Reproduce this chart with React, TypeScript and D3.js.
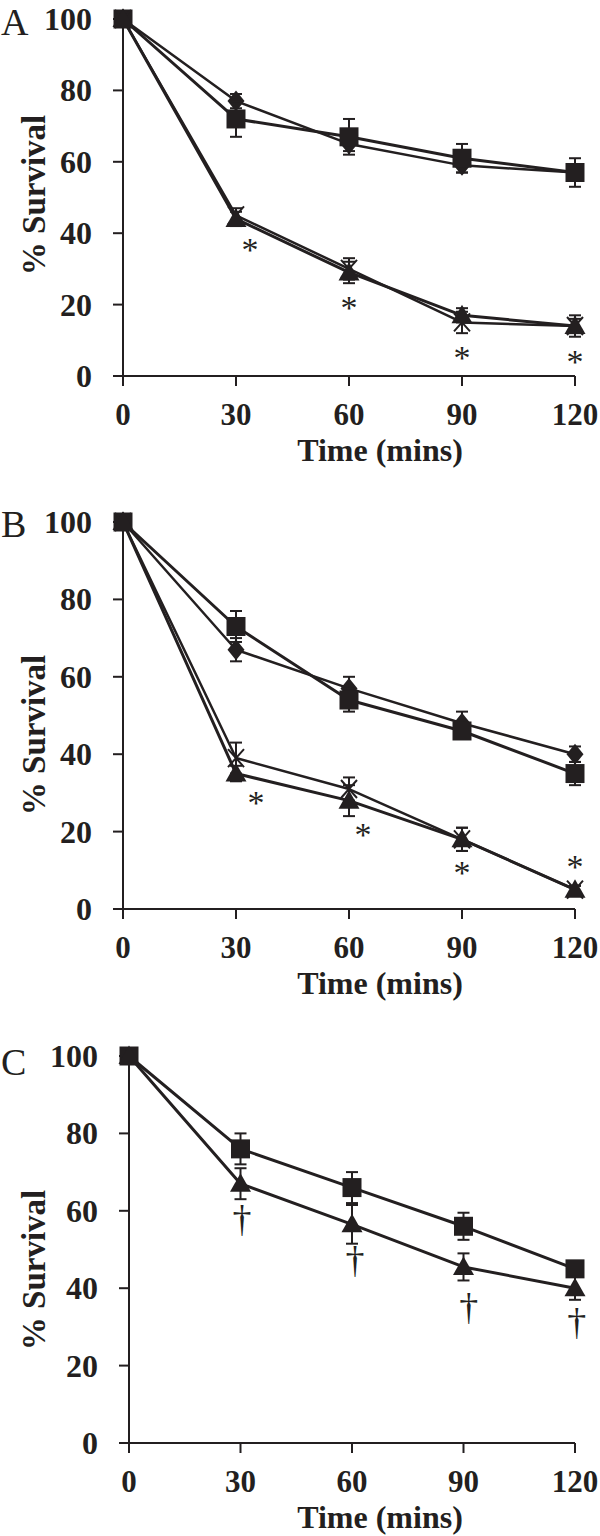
import React from "react";
import * as d3 from "d3";

const TIMES = [0, 30, 60, 90, 120];
const Y_TICKS = [0, 20, 40, 60, 80, 100];

// Panel A
const A_DIAMOND = [100, 77, 65, 59, 57];
const A_DIAMOND_ERR = [0, 2, 2, 2, 2];
const A_SQUARE = [100, 72, 67, 61, 57];
const A_SQUARE_ERR = [0, 5, 5, 4, 4];
const A_CROSS = [100, 45, 30, 15, 14];
const A_CROSS_ERR = [0, 2, 3, 3, 2];
const A_TRIANGLE = [100, 44, 29, 17, 14];
const A_TRIANGLE_ERR = [0, 2, 3, 2, 3];
const A_STARS = [[33.7, 37.3], [60, 21], [90, 7], [120, 5.9]];

// Panel B
const B_DIAMOND = [100, 67, 57, 48, 40];
const B_DIAMOND_ERR = [0, 3, 3, 3, 2];
const B_SQUARE = [100, 73, 54, 46, 35];
const B_SQUARE_ERR = [0, 4, 3, 2, 3];
const B_CROSS = [100, 39, 31, 18, 5];
const B_CROSS_ERR = [0, 4, 3, 3, 1];
const B_TRIANGLE = [100, 35, 28, 18, 5];
const B_TRIANGLE_ERR = [0, 2, 4, 3, 1];
const B_STARS = [[35.3, 29.2], [63.7, 20.9], [90, 11.1], [120, 12.7]];

// Panel C
const C_SQUARE = [100, 76, 66, 56, 45];
const C_SQUARE_ERR = [0, 4, 4, 3.5, 2];
const C_TRIANGLE = [100, 67, 56.5, 45.5, 40];
const C_TRIANGLE_ERR = [0, 4, 5, 3.5, 3];
const C_DAGGERS = [[30.4, 57.1], [60.8, 46.5], [91.4, 34.4], [120.5, 30.5]];

const INK = "#231f20";
const FONT = "'Liberation Serif', 'Times New Roman', serif";

type Series = { shape: string; values: number[]; err: number[]; width: number };

type PanelCfg = {
  letter: string;
  x0: number; x1: number; yTop: number; yBot: number;
  letterBase: number; titleCy: number;
  series: Series[];
  notes: number[][]; noteChar: string;
};

const PANELS: PanelCfg[] = [
  {
    letter: "A", x0: 123, x1: 575, yTop: 19, yBot: 376, letterBase: 35, titleCy: 195,
    series: [
      { shape: "diamond", values: A_DIAMOND, err: A_DIAMOND_ERR, width: 2.5 },
      { shape: "square", values: A_SQUARE, err: A_SQUARE_ERR, width: 3 },
      { shape: "cross", values: A_CROSS, err: A_CROSS_ERR, width: 2.5 },
      { shape: "triangle", values: A_TRIANGLE, err: A_TRIANGLE_ERR, width: 3 },
    ],
    notes: A_STARS, noteChar: "*",
  },
  {
    letter: "B", x0: 123, x1: 575, yTop: 522, yBot: 909, letterBase: 537, titleCy: 735,
    series: [
      { shape: "diamond", values: B_DIAMOND, err: B_DIAMOND_ERR, width: 2.5 },
      { shape: "square", values: B_SQUARE, err: B_SQUARE_ERR, width: 3 },
      { shape: "cross", values: B_CROSS, err: B_CROSS_ERR, width: 2.5 },
      { shape: "triangle", values: B_TRIANGLE, err: B_TRIANGLE_ERR, width: 3 },
    ],
    notes: B_STARS, noteChar: "*",
  },
  {
    letter: "C", x0: 129, x1: 575, yTop: 1056, yBot: 1443, letterBase: 1075, titleCy: 1270,
    series: [
      { shape: "square", values: C_SQUARE, err: C_SQUARE_ERR, width: 3 },
      { shape: "triangle", values: C_TRIANGLE, err: C_TRIANGLE_ERR, width: 3 },
    ],
    notes: C_DAGGERS, noteChar: "†",
  },
];

function markerPath(shape: string): string {
  if (shape === "square") return "M-9.5,-9.5H9.5V9.5H-9.5Z";
  if (shape === "triangle") return "M0,-10.5L10.5,8H-10.5Z";
  if (shape === "diamond") return "M0,-10.5L8.5,0L0,10.5L-8.5,0Z";
  return "M-8,-9L8,9M-8,9L8,-9";
}

function Panel({ cfg }: { cfg: PanelCfg }) {
  const x = d3.scaleLinear().domain([0, 120]).range([cfg.x0, cfg.x1]);
  const y = d3.scaleLinear().domain([0, 100]).range([cfg.yBot, cfg.yTop]);
  const line = d3.line<number>().x((_, i) => x(TIMES[i])).y((v) => y(v));
  const labelX = cfg.x0 - 31;
  const isStar = cfg.noteChar === "*";
  return (
    <g>
      <text x={1} y={cfg.letterBase} fontFamily={FONT} fontSize={38} fill={INK}>{cfg.letter}</text>
      <line x1={cfg.x0} x2={cfg.x0} y1={y(100)} y2={y(0)} stroke={INK} strokeWidth={2} />
      <line x1={cfg.x0 - 10} x2={x(120)} y1={y(0)} y2={y(0)} stroke={INK} strokeWidth={2} />
      {Y_TICKS.map((t) => (
        <g key={"y" + t}>
          <line x1={cfg.x0 - 10} x2={cfg.x0} y1={y(t)} y2={y(t)} stroke={INK} strokeWidth={2} />
          <text x={labelX} y={y(t) + 11} textAnchor="end" fontFamily={FONT} fontWeight="bold" fontSize={32} fill={INK}>{t}</text>
        </g>
      ))}
      {TIMES.map((t) => (
        <g key={"x" + t}>
          <line x1={x(t)} x2={x(t)} y1={y(0)} y2={y(0) + 10} stroke={INK} strokeWidth={2} />
          <text x={x(t)} y={y(0) + 49} textAnchor="middle" fontFamily={FONT} fontWeight="bold" fontSize={31} fill={INK}>{t}</text>
        </g>
      ))}
      <text x={380} y={y(0) + 85} textAnchor="middle" fontFamily={FONT} fontWeight="bold" fontSize={32} fill={INK}>Time (mins)</text>
      <text transform={`translate(45,${cfg.titleCy}) rotate(-90)`} textAnchor="middle" fontFamily={FONT} fontWeight="bold" fontSize={33} fill={INK}>% Survival</text>
      {cfg.series.map((s, si) => (
        <g key={"s" + si}>
          <path d={line(s.values) || ""} fill="none" stroke={INK} strokeWidth={s.width} strokeLinejoin="round" />
          {s.values.map((v, i) =>
            s.err[i] > 0 ? (
              <g key={"e" + i} stroke={INK} strokeWidth={2}>
                <line x1={x(TIMES[i])} x2={x(TIMES[i])} y1={y(v + s.err[i])} y2={y(v - s.err[i])} />
                <line x1={x(TIMES[i]) - 6} x2={x(TIMES[i]) + 6} y1={y(v + s.err[i])} y2={y(v + s.err[i])} />
                <line x1={x(TIMES[i]) - 6} x2={x(TIMES[i]) + 6} y1={y(v - s.err[i])} y2={y(v - s.err[i])} />
              </g>
            ) : null
          )}
          {s.values.map((v, i) => (
            <path key={"m" + i} transform={`translate(${x(TIMES[i])},${y(v)})`} d={markerPath(s.shape)}
              fill={s.shape === "cross" ? "none" : INK} stroke={INK} strokeWidth={s.shape === "cross" ? 2 : 0} />
          ))}
        </g>
      ))}
      {cfg.notes.map((n, i) => (
        <text key={"n" + i} x={x(n[0])} y={y(n[1]) + (isStar ? 18 : 10)} textAnchor="middle"
          fontFamily={FONT} fontSize={isStar ? 34 : 38} fill={INK}>{cfg.noteChar}</text>
      ))}
    </g>
  );
}

export default function App() {
  return (
    <svg width={600} height={1536} style={{ position: "absolute", left: 0, top: 0, background: "#fff" }}>
      <rect width={600} height={1536} fill="#fff" />
      {PANELS.map((p) => (
        <Panel key={p.letter} cfg={p} />
      ))}
    </svg>
  );
}
